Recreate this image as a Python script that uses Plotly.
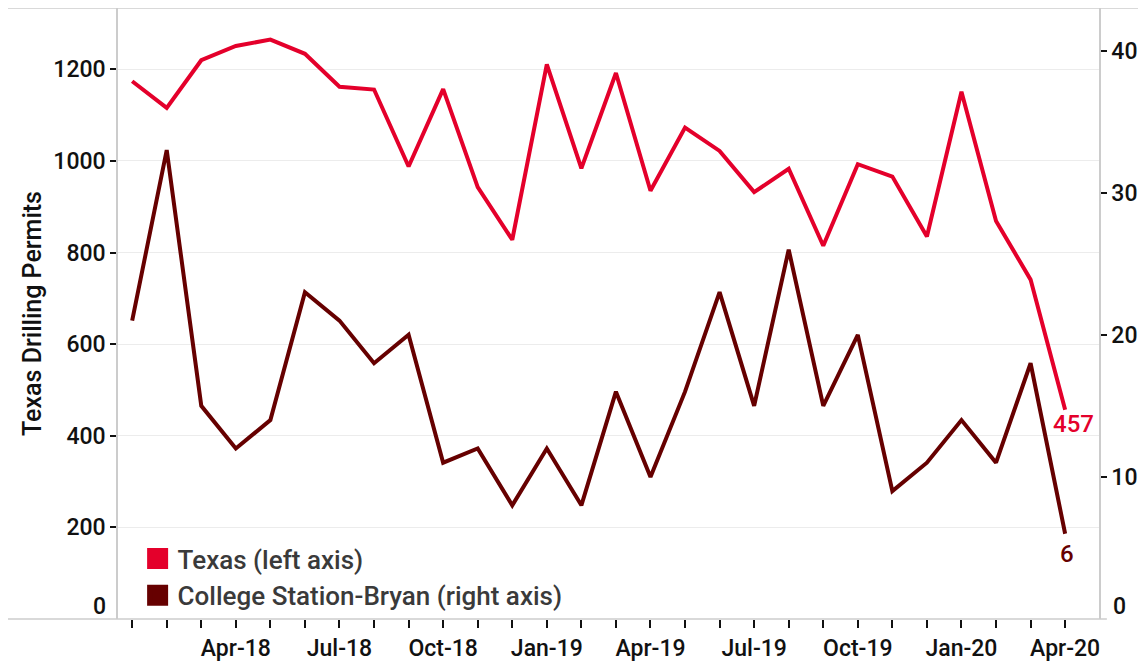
import plotly.graph_objects as go

months = ["Jan-18", "Feb-18", "Mar-18", "Apr-18", "May-18", "Jun-18", "Jul-18", "Aug-18",
          "Sep-18", "Oct-18", "Nov-18", "Dec-18", "Jan-19", "Feb-19", "Mar-19", "Apr-19",
          "May-19", "Jun-19", "Jul-19", "Aug-19", "Sep-19", "Oct-19", "Nov-19", "Dec-19",
          "Jan-20", "Feb-20", "Mar-20", "Apr-20"]
texas = [1174, 1116, 1220, 1251, 1265, 1234, 1162, 1156, 988, 1157, 943, 828, 1211, 984,
         1192, 935, 1073, 1022, 932, 983, 815, 993, 966, 835, 1151, 869, 741, 457]
csb = [21, 33, 15, 12, 14, 23, 21, 18, 20, 11, 12, 8, 12, 8, 16, 10, 16, 23, 15, 26, 15,
       20, 9, 11, 14, 11, 18, 6]
tick_labels = {"Apr-18", "Jul-18", "Oct-18", "Jan-19", "Apr-19", "Jul-19", "Oct-19",
               "Jan-20", "Apr-20"}
left_ticks = [200, 400, 600, 800, 1000, 1200]
right_ticks = [10, 20, 30, 40]

RED = "#E4002B"
MAROON = "#660000"
FONT = "Roboto"
TICK = dict(family=FONT, size=23, color="#111111", weight=500)

fig = go.Figure()
fig.add_trace(go.Scatter(x=months, y=texas, mode="lines", line=dict(color=RED, width=4),
                         showlegend=False, yaxis="y"))
fig.add_trace(go.Scatter(x=months, y=csb, mode="lines", line=dict(color=MAROON, width=4),
                         showlegend=False, yaxis="y2"))
# legend-only entries
fig.add_trace(go.Scatter(x=[None], y=[None], mode="markers", name="Texas (left axis)",
                         marker=dict(symbol="square", size=16, color=RED,
                                     line=dict(color=RED, width=5))))
fig.add_trace(go.Scatter(x=[None], y=[None], mode="markers", name="College Station-Bryan (right axis)",
                         marker=dict(symbol="square", size=16, color=MAROON,
                                     line=dict(color=MAROON, width=5))))

fig.update_layout(
    width=1138, height=654,
    margin=dict(l=110, r=47, t=0, b=37),
    plot_bgcolor="white", paper_bgcolor="white",
    font=dict(family=FONT, size=23, color="#111111"),
    showlegend=True,
    legend=dict(x=0.02, y=0.0, xanchor="left", yanchor="bottom",
                font=dict(family=FONT, size=26, color="#3a3a3a", weight=500),
                bgcolor="rgba(0,0,0,0)", itemsizing="trace", tracegroupgap=0),
    xaxis=dict(type="category", range=[-0.41, 27.98],
               tickmode="array", tickvals=months,
               ticktext=[m if m in tick_labels else "" for m in months],
               ticks="outside", ticklen=8, tickwidth=1.5, tickcolor="#111111",
               showgrid=False, showline=False, zeroline=False, tickfont=TICK),
    yaxis=dict(range=[0, 1334], tickvals=left_ticks, ticks="outside", ticklen=6,
               tickwidth=1.5, tickcolor="#111111", showgrid=True, gridcolor="#ececec",
               gridwidth=1.2, showline=True, linecolor="#cccccc", linewidth=1.5,
               zeroline=False, tickfont=TICK,
               title=dict(text="Texas Drilling Permits", standoff=5,
                          font=dict(family=FONT, size=25, color="#111111", weight=500))),
    yaxis2=dict(range=[0, 43.0], tickvals=right_ticks, overlaying="y", side="right",
                ticks="outside", ticklen=6, tickwidth=1.5, tickcolor="#111111",
                showgrid=False, showline=True, linecolor="#cccccc", linewidth=1.5,
                zeroline=False, tickfont=TICK),
)

# frame lines
fig.add_shape(type="line", xref="paper", yref="paper", x0=-0.113, x1=1.05, y0=1, y1=1,
              line=dict(color="#cccccc", width=1.5))
fig.add_shape(type="line", xref="paper", yref="paper", x0=-0.113, x1=1.008, y0=0, y1=0,
              line=dict(color="#cccccc", width=1.5))

# zero labels
fig.add_annotation(xref="paper", yref="paper", x=0, y=0, text="0", showarrow=False,
                   xanchor="right", yanchor="bottom", xshift=-10, yshift=-3,
                   font=TICK)
fig.add_annotation(xref="paper", yref="paper", x=1, y=0, text="0", showarrow=False,
                   xanchor="left", yanchor="bottom", xshift=12, yshift=-3,
                   font=TICK)

# end labels
fig.add_annotation(x=months[-1], y=texas[-1], yref="y", text=str(texas[-1]), showarrow=False,
                   xanchor="center", yanchor="top", xshift=8, yshift=2,
                   font=dict(family=FONT, size=24, color=RED, weight=500))
fig.add_annotation(x=months[-1], y=csb[-1], yref="y2", text=str(csb[-1]), showarrow=False,
                   xanchor="center", yanchor="top", xshift=2, yshift=-4,
                   font=dict(family=FONT, size=24, color=MAROON, weight=500))

fig.write_html("out.html")
